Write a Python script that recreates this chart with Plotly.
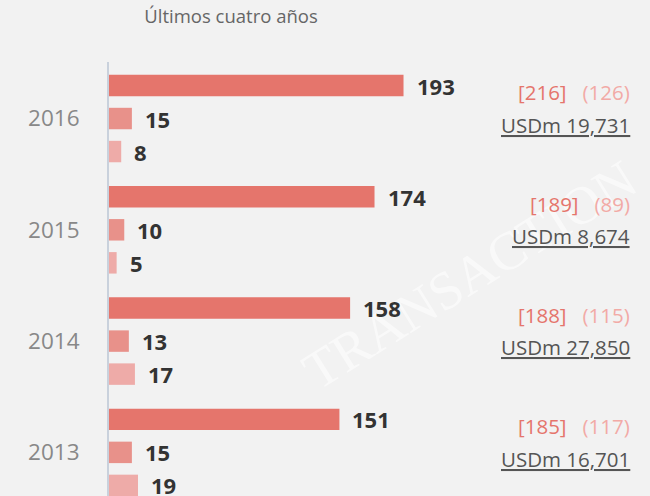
import plotly.graph_objects as go

# ---- data ----
years = ["2016", "2015", "2014", "2013"]
series_a = [193, 174, 158, 151]   # main bar
series_b = [15, 10, 13, 15]       # second bar
series_c = [8, 5, 17, 19]         # third bar
bracket_vals = [216, 189, 188, 185]
paren_vals = [126, 89, 115, 117]
usdm_vals = ["19,731", "8,674", "27,850", "16,701"]
title_text = "Últimos cuatro años"

# ---- style ----
BG = "#f2f2f2"
C_A = "#e5756c"
C_B = "#e8918a"
C_C = "#eeaba8"
FONT = "Open Sans"
BARGAP = 0.11
BARGROUPGAP = 0.35

fig = go.Figure()
for vals, col in [(series_a, C_A), (series_b, C_B), (series_c, C_C)]:
    fig.add_trace(go.Bar(x=vals, y=years, orientation="h", marker=dict(color=col, line=dict(width=0)),
                         hoverinfo="skip", showlegend=False))

# faint watermark (first, so it sits beneath the other texts)
annotations = [dict(x=0.667, y=0.51, xref="paper", yref="paper", text="TRANSACTION",
                    showarrow=False, textangle=-32, xanchor="center", yanchor="middle",
                    font=dict(family="Liberation Serif", size=54, color="rgba(255,255,255,0.55)"))]

slot = (1 - BARGAP) / 3
for i in range(len(years)):
    for k, vals in enumerate([series_a, series_b, series_c]):
        annotations.append(dict(x=vals[i], y=i + (k - 1) * slot, xref="x", yref="y",
                                text=f"<b>{vals[i]}</b>", showarrow=False, xanchor="left",
                                yanchor="middle", xshift=11,
                                font=dict(family=FONT, size=22, color="#333333")))
    # right column
    annotations.append(dict(x=0.966, y=i - 0.235, xref="paper", yref="y",
                            text=f"<span style='color:{C_A}'>[{bracket_vals[i]}]</span>"
                                 f"   <span style='color:#f2aaa6'>({paren_vals[i]})</span>",
                            showarrow=False, xanchor="right", yanchor="middle",
                            font=dict(family=FONT, size=20.5, color=C_A)))
    annotations.append(dict(x=0.966, y=i + 0.055, xref="paper", yref="y",
                            text=f"USDm {usdm_vals[i]}", showarrow=False, xanchor="right",
                            yanchor="middle",
                            font=dict(family=FONT, size=20.5, color="#555555", lineposition="under")))

fig.update_layout(
    width=650, height=496,
    margin=dict(l=109, r=0, t=62, b=0),
    paper_bgcolor=BG, plot_bgcolor=BG,
    barmode="group", bargap=BARGAP, bargroupgap=BARGROUPGAP,
    title=dict(text=title_text, x=231 / 650, xref="container", xanchor="center",
               y=1 - 17 / 496, yref="container", yanchor="middle",
               font=dict(family=FONT, size=18.5, color="#666666")),
    xaxis=dict(range=[0, 541 / 1.526], visible=False, fixedrange=True),
    yaxis=dict(type="category", range=[3.392, -0.508], showgrid=False, zeroline=False,
               showline=True, linecolor="#c9d1dc", linewidth=2, ticks="",
               ticklabelstandoff=23,
               tickfont=dict(family=FONT, size=22.5, color="#888888"), fixedrange=True),
    annotations=annotations,
)

fig.write_html("out.html", config={"staticPlot": True},
               post_script="document.body.style.margin='0px';")
